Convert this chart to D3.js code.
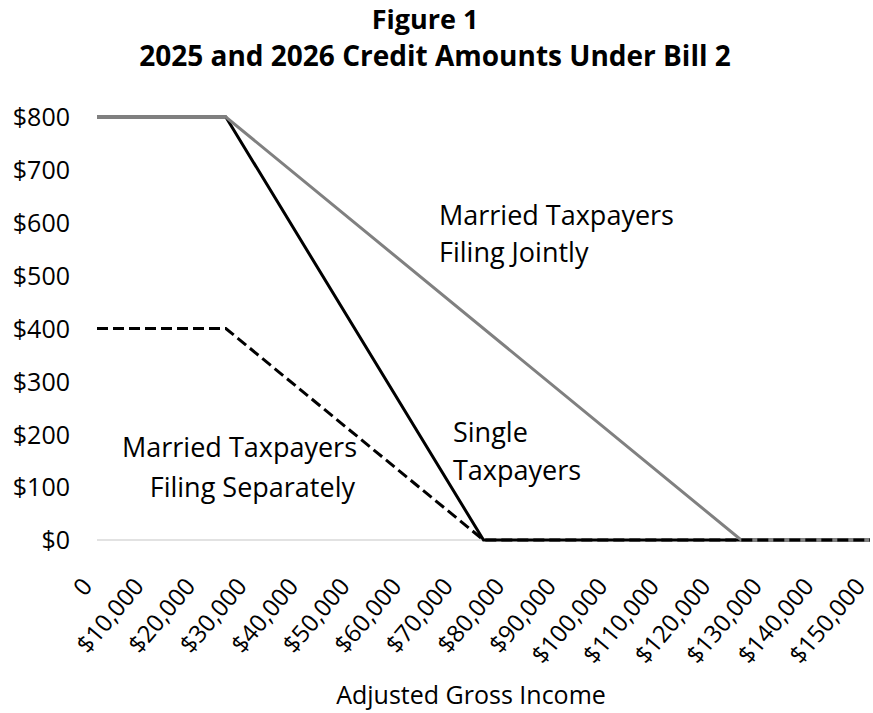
<!DOCTYPE html>
<html><head><meta charset="utf-8">
<script src="https://cdn.jsdelivr.net/npm/d3@7"></script>
<style>body{margin:0;background:#fff;} text{font-family:"Open Sans","Noto Sans",sans-serif;fill:#000;}</style>
</head><body>
<svg id="c" width="873" height="713"></svg>
<script>
const xTicks = [0,10000,20000,30000,40000,50000,60000,70000,80000,90000,100000,110000,120000,130000,140000,150000];
const yTicks = [0,100,200,300,400,500,600,700,800];
const jointX = [0,25000,125000,150000];
const jointY = [800,800,0,0];
const singleX = [0,25000,75000,150000];
const singleY = [800,800,0,0];
const sepX = [0,25000,75000,150000];
const sepY = [400,400,0,0];

const svg = d3.select("#c");
const x = d3.scaleLinear().domain([0,150000]).range([97,870]);
const y = d3.scaleLinear().domain([0,800]).range([540,117]);

// title
svg.append("text").attr("x",425).attr("y",29).attr("text-anchor","middle")
  .attr("font-size",27).attr("font-weight","bold").text("Figure 1");
svg.append("text").attr("x",435).attr("y",66).attr("text-anchor","middle")
  .attr("font-size",28).attr("font-weight","bold").text("2025 and 2026 Credit Amounts Under Bill 2");

// baseline
svg.append("line").attr("x1",x(0)).attr("x2",x(150000)).attr("y1",y(0)).attr("y2",y(0))
  .attr("stroke","#d9d9d9").attr("stroke-width",1.5);

// y axis labels
const yAxis = d3.axisLeft(y).tickValues(yTicks).tickSize(0).tickPadding(0)
  .tickFormat(d=>"$"+d);
const gy = svg.append("g").attr("transform","translate(70,0)").call(yAxis);
gy.select(".domain").remove();
gy.selectAll("text").attr("font-size",25).attr("font-family","'Open Sans',sans-serif").attr("fill","#000").attr("dy","0.35em");

// x axis labels
const fmt = d => d===0 ? "0" : "$"+d3.format(",")(d);
const xAxis = d3.axisBottom(x).tickValues(xTicks).tickSize(0).tickFormat(fmt);
const gx = svg.append("g").attr("transform","translate(0,"+y(0)+")").call(xAxis);
gx.select(".domain").remove();
gx.selectAll("text").attr("font-size",24).attr("font-family","'Open Sans',sans-serif").attr("fill","#000")
  .attr("text-anchor","end").attr("dy",0).attr("y",0)
  .attr("transform","translate(-4,47) rotate(-50)");

// lines
const line = d3.line().x(d=>x(d[0])).y(d=>y(d[1]));
const mk = (xs,ys)=>xs.map((v,i)=>[v,ys[i]]);
svg.append("path").datum(mk(singleX,singleY)).attr("d",line).attr("fill","none")
  .attr("stroke","#000").attr("stroke-width",3);
svg.append("path").datum(mk(jointX,jointY)).attr("d",line).attr("fill","none")
  .attr("stroke","#808080").attr("stroke-width",3);
svg.append("path").datum(mk(sepX,sepY)).attr("d",line).attr("fill","none")
  .attr("stroke","#000").attr("stroke-width",3).attr("stroke-dasharray","11,5");

// annotations
const ann = (t,xx,yy,anchor)=>svg.append("text").attr("x",xx).attr("y",yy)
  .attr("font-size",27).attr("text-anchor",anchor||"start").text(t);
ann("Married Taxpayers",439,225);
ann("Filing Jointly",439,262);
ann("Single",453,442);
ann("Taxpayers",453,480);
ann("Married Taxpayers",357,457,"end");
ann("Filing Separately",355,497,"end");

svg.append("text").attr("x",471).attr("y",704).attr("text-anchor","middle")
  .attr("font-size",25).text("Adjusted Gross Income");
</script>
</body></html>
